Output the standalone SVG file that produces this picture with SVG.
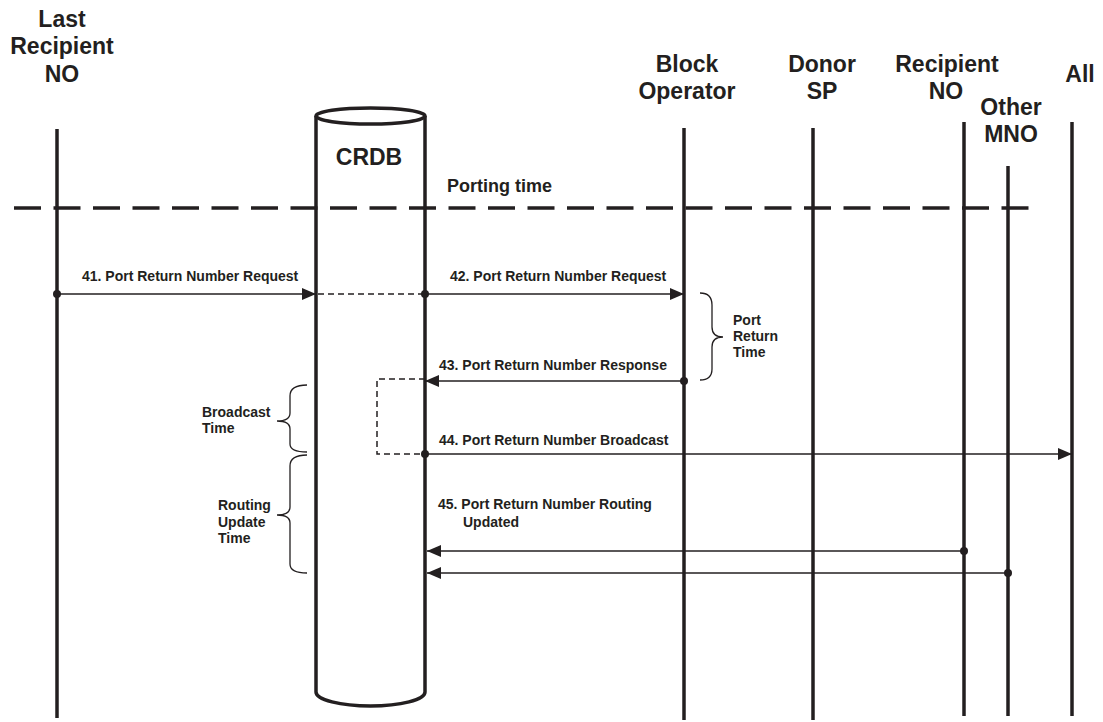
<svg xmlns="http://www.w3.org/2000/svg" width="1103" height="722" viewBox="0 0 1103 722">
<defs>
<style>
.t{font-family:"Liberation Sans",Arial,sans-serif;font-weight:bold;fill:#231f20}
.h{font-size:23px;text-anchor:middle}
.m{font-size:14px}
.s{font-size:14px}
.life{stroke:#231f20;stroke-width:3.5;fill:none}
.msg{stroke:#231f20;stroke-width:1.5;fill:none}
.dash{stroke:#231f20;stroke-width:1.5;fill:none;stroke-dasharray:6 4}
.brace{stroke:#231f20;stroke-width:1.3;fill:none}
.dot{fill:#231f20}
</style>
<marker id="arr" viewBox="0 0 14 12" refX="14" refY="6" markerWidth="14" markerHeight="12" markerUnits="userSpaceOnUse" orient="auto">
<path d="M0,0 L14,6 L0,12 Z" fill="#231f20"/>
</marker>
</defs>
<rect width="1103" height="722" fill="#fff"/>

<g id="porting-time">
<line x1="14" y1="208" x2="1034" y2="208" stroke="#231f20" stroke-width="3.5" stroke-dasharray="27 12.5"/>
<text class="t" x="447" y="192" font-size="18">Porting time</text>
</g>

<g id="node-last-recipient">
<text class="t h" x="62" y="27">Last</text>
<text class="t h" x="62" y="54">Recipient</text>
<text class="t h" x="62" y="82">NO</text>
<line class="life" x1="57" y1="129" x2="57" y2="718"/>
</g>

<g id="node-crdb">
<path class="life" d="M316,116 L316,692 A54.5,14 0 0 0 425,692 L425,116"/>
<ellipse class="life" cx="370.5" cy="116" rx="54.5" ry="8"/>
<text class="t h" x="369" y="165">CRDB</text>
</g>

<g id="node-block-operator">
<text class="t h" x="687" y="72">Block</text>
<text class="t h" x="687" y="99">Operator</text>
<line class="life" x1="684" y1="128" x2="684" y2="720"/>
</g>

<g id="node-donor-sp">
<text class="t h" x="822" y="72">Donor</text>
<text class="t h" x="822" y="99">SP</text>
<line class="life" x1="813" y1="128" x2="813" y2="720"/>
</g>

<g id="node-recipient-no">
<text class="t h" x="947" y="72">Recipient</text>
<text class="t h" x="946" y="99">NO</text>
<line class="life" x1="964" y1="122" x2="964" y2="716"/>
</g>

<g id="node-other-mno">
<text class="t h" x="1011" y="115">Other</text>
<text class="t h" x="1011" y="142">MNO</text>
<line class="life" x1="1008" y1="166" x2="1008" y2="716"/>
</g>

<g id="node-all">
<text class="t h" x="1080" y="82">All</text>
<line class="life" x1="1072" y1="122" x2="1072" y2="716"/>
</g>

<g id="connectors">
<line class="msg" x1="57" y1="294" x2="316" y2="294" marker-end="url(#arr)"/>
<circle class="dot" cx="57" cy="294" r="4"/>
<text class="t m" x="82" y="281">41. Port Return Number Request</text>

<line class="dash" x1="318" y1="294" x2="425" y2="294"/>

<line class="msg" x1="425" y1="294" x2="684" y2="294" marker-end="url(#arr)"/>
<circle class="dot" cx="425" cy="294" r="4"/>
<text class="t m" x="450" y="281">42. Port Return Number Request</text>

<line class="msg" x1="684" y1="381" x2="425" y2="381" marker-end="url(#arr)"/>
<circle class="dot" cx="684" cy="381" r="4"/>
<text class="t m" x="439" y="370">43. Port Return Number Response</text>

<path class="dash" d="M425,379 L377,379 L377,454 L425,454"/>

<line class="msg" x1="425" y1="454" x2="1072" y2="454" marker-end="url(#arr)"/>
<circle class="dot" cx="425" cy="454" r="4"/>
<text class="t m" x="439" y="445">44. Port Return Number Broadcast</text>

<text class="t m" x="438" y="509">45. Port Return Number Routing</text>
<text class="t m" x="463" y="527">Updated</text>
<line class="msg" x1="964" y1="551" x2="427" y2="551" marker-end="url(#arr)"/>
<circle class="dot" cx="964" cy="551" r="4"/>
<line class="msg" x1="1008" y1="573" x2="427" y2="573" marker-end="url(#arr)"/>
<circle class="dot" cx="1008" cy="573" r="4"/>
</g>

<g id="brace-port-return">
<path class="brace" d="M700,293 Q712,293 712,305 L712,327 Q712,337 723,337 Q712,337 712,347 L712,369 Q712,380 700,380"/>
<text class="t s" x="733" y="325">Port</text>
<text class="t s" x="733" y="341">Return</text>
<text class="t s" x="733" y="357">Time</text>
</g>

<g id="brace-broadcast">
<path class="brace" d="M307,385 Q290,385 290,396 L290,413 Q290,421 277,421 Q290,421 290,429 L290,444 Q290,452 307,452"/>
<text class="t s" x="202" y="417">Broadcast</text>
<text class="t s" x="202" y="433">Time</text>
</g>

<g id="brace-routing">
<path class="brace" d="M307,455 Q290,455 290,466 L290,507 Q290,515 277,515 Q290,515 290,523 L290,564 Q290,573 307,573"/>
<text class="t s" x="218" y="510">Routing</text>
<text class="t s" x="218" y="527">Update</text>
<text class="t s" x="218" y="543">Time</text>
</g>
</svg>
